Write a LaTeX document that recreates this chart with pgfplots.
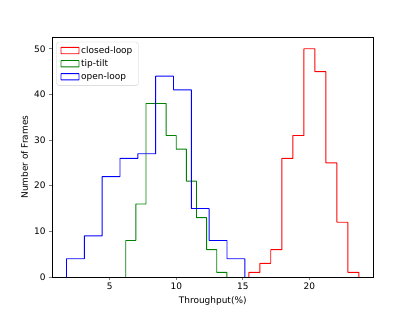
\documentclass[border=0pt]{standalone}
\usepackage{pgfplots}
\pgfplotsset{compat=1.18}
\usepackage{fontspec}
\setmainfont{DejaVu Sans}
\definecolor{mplred}{rgb}{1,0,0}
\definecolor{mplgreen}{rgb}{0,0.5,0}
\definecolor{mplblue}{rgb}{0,0,1}
\begin{document}
\begin{tikzpicture}
\path[use as bounding box] (0,0) rectangle (460.8bp,345.6bp);
\begin{axis}[
  at={(57.6bp,38.02bp)}, anchor=south west,
  scale only axis, width=357.12bp, height=266.11bp,
  xmin=0.65, xmax=24.82, ymin=0, ymax=52.5,
  xtick={5,10,15,20}, ytick={0,10,20,30,40,50},
  xtick pos=bottom, ytick pos=left,
  tick align=outside, major tick length=3.5pt,
  axis line style={line width=0.8pt},
  tick style={line width=0.8pt},
  /pgf/number format/assume math mode=true,
  tick label style={font=\fontsize{10}{12}\selectfont},
  label style={font=\fontsize{10}{12}\selectfont},
  xlabel={Throughput(\%)}, ylabel={Number of Frames},
  legend cell align=left,
  legend style={at={(0,1)}, anchor=north west, xshift=5pt, yshift=-5pt,
    draw=white!80!black, rounded corners=2pt, fill=white,
    font=\fontsize{10}{12}\selectfont, row sep=1.5pt, inner ysep=3pt, inner xsep=4.5pt,
    /tikz/every even column/.append style={column sep=2pt}},
  legend image code/.code={\draw[#1,line width=1pt,rounded corners=0.4pt] (0pt,-3.5pt) rectangle (20pt,3.5pt);},
  every axis plot/.append style={line width=1pt, mark=none, sharp plot, rounded corners=0.3pt},
]
\addplot[color=mplred] coordinates {
 (15.45,0) (15.45,1) (16.28,1) (16.28,3) (17.10,3) (17.10,6) (17.93,6) (17.93,26)
 (18.76,26) (18.76,31) (19.59,31) (19.59,50) (20.41,50) (20.41,45) (21.24,45) (21.24,25)
 (22.07,25) (22.07,12) (22.89,12) (22.89,1) (23.72,1) (23.72,0)};
\addlegendentry{closed-loop}
\addplot[color=mplgreen] coordinates {
 (6.20,0) (6.20,8) (6.96,8) (6.96,16) (7.72,16) (7.72,38) (9.24,38) (9.24,31)
 (10.00,31) (10.00,28) (10.76,28) (10.76,21) (11.52,21) (11.52,13) (12.28,13) (12.28,6)
 (13.04,6) (13.04,1) (13.80,1) (13.80,0)};
\addlegendentry{tip-tilt}
\addplot[color=mplblue] coordinates {
 (1.75,0) (1.75,4) (3.09,4) (3.09,9) (4.43,9) (4.43,22) (5.77,22) (5.77,26)
 (7.11,26) (7.11,27) (8.45,27) (8.45,44) (9.79,44) (9.79,41) (11.13,41) (11.13,15)
 (12.47,15) (12.47,8) (13.81,8) (13.81,4) (15.15,4) (15.15,0)};
\addlegendentry{open-loop}
\end{axis}
\end{tikzpicture}
\end{document}
